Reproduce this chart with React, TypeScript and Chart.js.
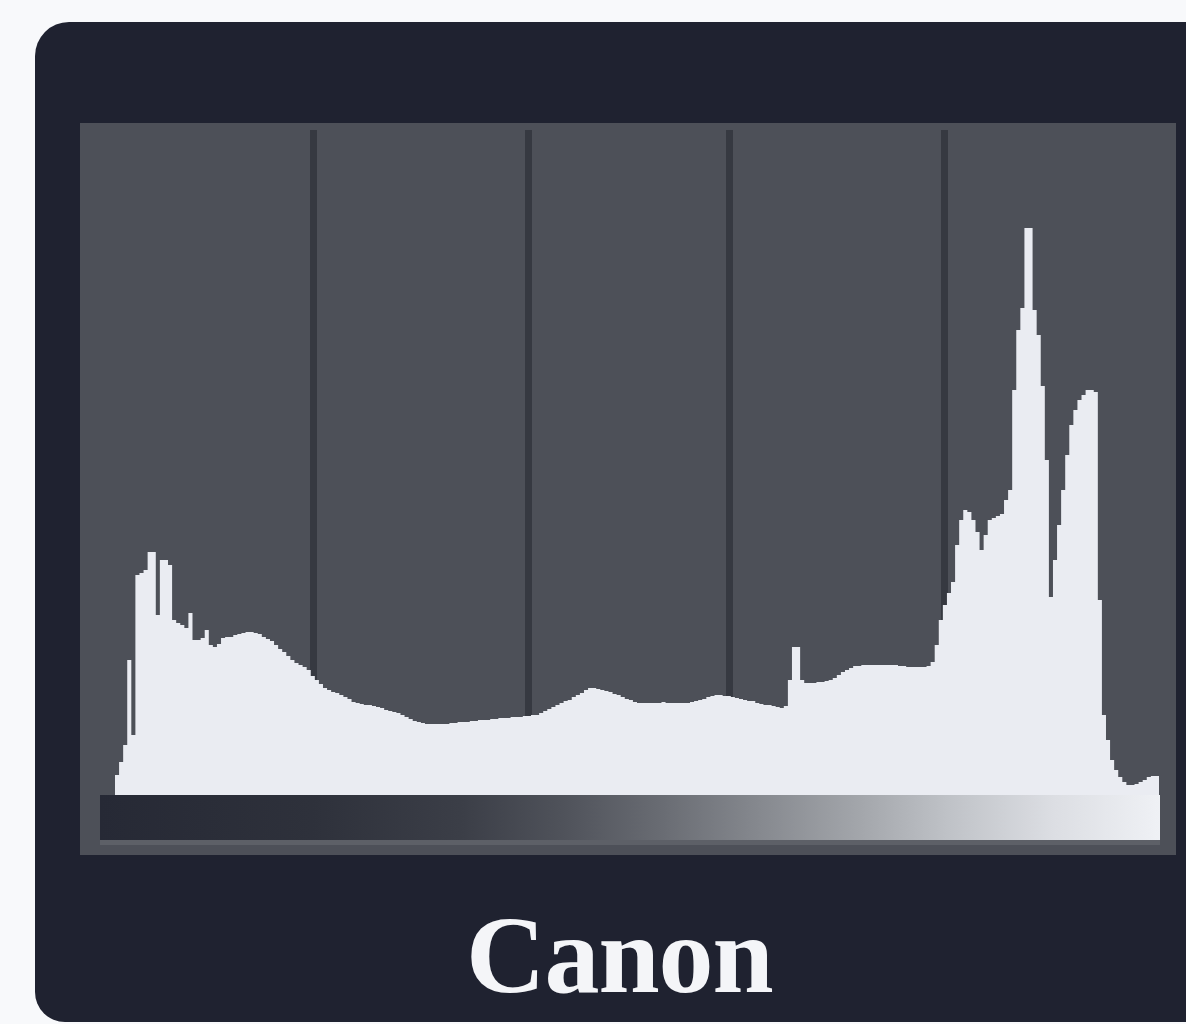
import React, { useEffect, useRef } from "react";
import { Chart, registerables } from "chart.js";

Chart.register(...registerables);

// Histogram: pixel counts per tone level (0 = black … 255 = white)
const levelCounts: number[] = [
  10, 20, 33, 50, 135, 60, 220, 222, 225, 243, 243, 180, 235, 235, 230, 175,
  172, 170, 167, 182, 155, 155, 157, 165, 150, 148, 151, 157, 158, 158, 160, 161,
  162, 163, 163, 162, 161, 158, 156, 154, 150, 146, 143, 139, 135, 132, 130, 128,
  125, 119, 115, 111, 107, 105, 103, 102, 100, 98, 96, 93, 92, 91, 90, 90,
  89, 88, 87, 85, 84, 83, 82, 80, 78, 76, 74, 73, 72, 71, 71, 71,
  71, 71, 71, 72, 72, 73, 73, 73, 74, 74, 75, 75, 75, 76, 76, 77,
  77, 77, 78, 78, 78, 79, 79, 80, 80, 82, 84, 86, 88, 90, 92, 94,
  95, 98, 100, 102, 105, 107, 107, 106, 105, 104, 103, 101, 100, 98, 96, 95,
  93, 92, 92, 92, 92, 92, 92, 93, 92, 92, 92, 92, 92, 92, 93, 94,
  95, 96, 98, 99, 100, 100, 99, 99, 98, 97, 96, 95, 94, 94, 92, 91,
  90, 90, 89, 88, 87, 89, 115, 148, 148, 115, 112, 112, 112, 113, 113, 114,
  115, 117, 120, 123, 125, 127, 129, 129, 130, 130, 130, 130, 130, 130, 130, 130,
  130, 129, 129, 128, 128, 128, 128, 128, 129, 133, 150, 175, 190, 202, 213, 250,
  275, 285, 283, 275, 263, 245, 260, 275, 277, 279, 281, 295, 305, 405, 465, 487,
  567, 567, 485, 460, 409, 335, 198, 235, 270, 305, 340, 370, 385, 395, 400, 405,
  405, 403, 195, 80, 55, 35, 25, 18, 13, 10, 10, 11, 13, 15, 18, 19,
];

// Tone levels where the screen's vertical divider lines sit
const dividerLevels: number[] = [48.6, 101.3, 150.8, 203.5];
const levelMax = 256;
const countMax = 665;
const brandName = "Canon";

const toneBarPlugin = {
  id: "toneBar",
  beforeDatasetsDraw(chart: any) {
    const { ctx, chartArea, width } = chart;
    const top = chartArea.bottom;
    const h = 45;
    const g = ctx.createLinearGradient(0, 0, width, 0);
    g.addColorStop(0, "#262935");
    g.addColorStop(0.2, "#2e313b");
    g.addColorStop(0.34, "#3b3e47");
    g.addColorStop(0.44, "#50535b");
    g.addColorStop(0.53, "#696c73");
    g.addColorStop(0.62, "#85888e");
    g.addColorStop(0.72, "#a4a7ac");
    g.addColorStop(0.8, "#bfc2c7");
    g.addColorStop(0.9, "#dcdee3");
    g.addColorStop(1, "#eff1f5");
    ctx.save();
    ctx.fillStyle = g;
    ctx.fillRect(0, top, width, h);
    ctx.fillStyle = "#5d6067";
    ctx.fillRect(0, top + h, width, 10);
    ctx.restore();
  },
};

function Histogram() {
  const ref = useRef<HTMLCanvasElement | null>(null);
  useEffect(() => {
    if (!ref.current) return;
    const pts = levelCounts.map((v, i) => ({ x: i, y: v }));
    pts.push({ x: levelCounts.length, y: levelCounts[levelCounts.length - 1] });
    const chart = new Chart(ref.current, {
      type: "line",
      data: {
        datasets: [
          {
            data: pts,
            stepped: "after",
            fill: "origin",
            backgroundColor: "#eaecf2",
            borderWidth: 0,
            borderColor: "rgba(0,0,0,0)",
            pointRadius: 0,
          },
        ],
      },
      options: {
        animation: false,
        responsive: true,
        maintainAspectRatio: false,
        layout: { padding: { left: 15, right: 1, top: 5, bottom: 50 } },
        plugins: { legend: { display: false }, tooltip: { enabled: false } },
        scales: {
          x: {
            type: "linear",
            min: 0,
            max: levelMax,
            afterBuildTicks: (axis: any) => {
              axis.ticks = dividerLevels.map((v) => ({ value: v }));
            },
            ticks: { display: false },
            grid: { color: "#363941", lineWidth: 7, drawTicks: false },
            border: { display: false },
          },
          y: {
            min: 0,
            max: countMax,
            display: false,
          },
        },
      },
      plugins: [toneBarPlugin],
    });
    return () => chart.destroy();
  }, []);
  return <canvas ref={ref} />;
}

export default function App() {
  return (
    <div
      style={{
        position: "fixed",
        left: 0,
        top: 0,
        width: 1186,
        height: 1024,
        background: "#f8f9fb",
        overflow: "hidden",
      }}
    >
      <div
        style={{
          position: "absolute",
          left: 35,
          top: 22,
          width: 1200,
          height: 1000,
          background: "#1f2230",
          borderRadius: "34px 0 0 30px",
        }}
      />
      <div
        style={{
          position: "absolute",
          left: 80,
          top: 123,
          width: 1096,
          height: 732,
          background: "#4d5058",
        }}
      />
      <div
        style={{
          position: "absolute",
          left: 100,
          top: 125,
          width: 1060,
          height: 720,
        }}
      >
        <Histogram />
      </div>
      <div
        style={{
          position: "absolute",
          left: 466,
          top: 900,
          fontFamily: "'Liberation Serif', 'DejaVu Serif', serif",
          fontWeight: 700,
          fontSize: 110,
          lineHeight: "110px",
          color: "#f4f5f8",
          letterSpacing: -1,
        }}
      >
        {brandName}
      </div>
    </div>
  );
}
